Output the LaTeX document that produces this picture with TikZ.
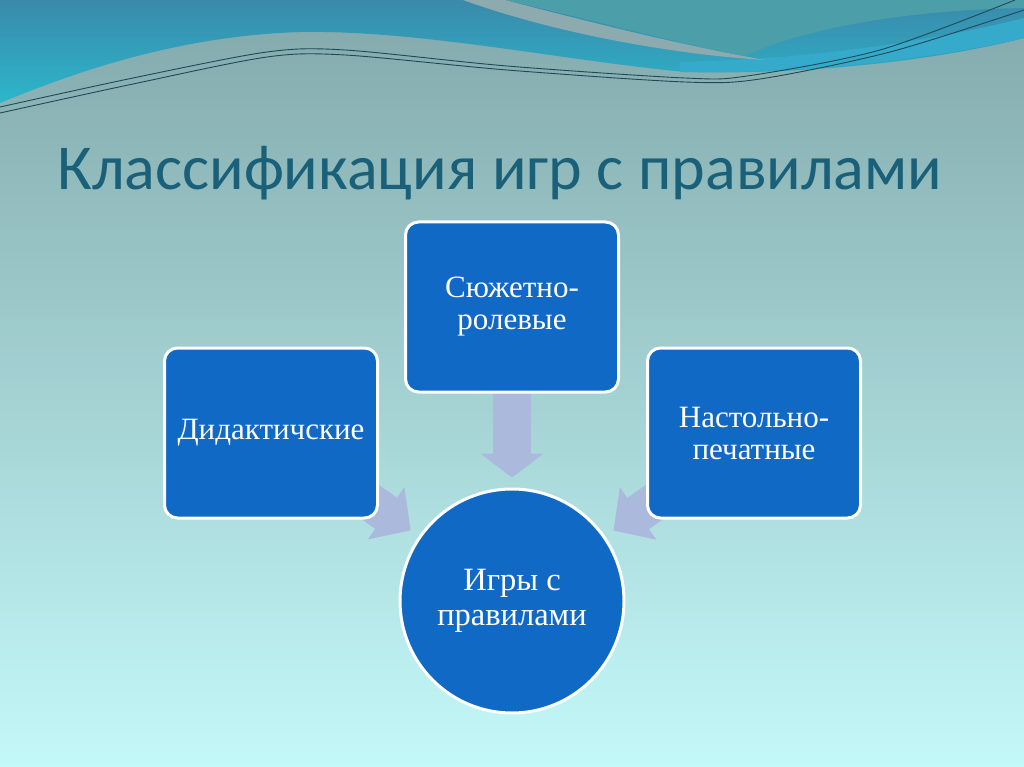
\documentclass[tikz,border=0pt]{standalone}
\usepackage{fontspec}
\setmainfont{Liberation Serif}
\newfontfamily\titlefont{Carlito}
\usetikzlibrary{arrows.meta, positioning}

\pgfdeclarelayer{back}
\pgfsetlayers{back,main}

\definecolor{boxblue}{HTML}{1169C6}
\definecolor{arrowc}{HTML}{AAB9DC}
\definecolor{titlec}{HTML}{1A6079}
\definecolor{skyblue}{HTML}{3A8AAA}
\definecolor{skycyan}{HTML}{2CB6CC}
\definecolor{bandcyan}{HTML}{36AACA}
\definecolor{skyteal}{HTML}{4C9EA8}
\definecolor{streak}{HTML}{8DAAAE}
\definecolor{waveline}{HTML}{1D4A56}
\definecolor{bgtop}{HTML}{82A8AB}
\definecolor{bgmid}{HTML}{A5D4D5}
\definecolor{bgbot}{HTML}{C4F9F9}

\tikzset{
	kind/.style={rectangle, rounded corners=13pt, fill=boxblue, draw=white, line width=3pt,
		minimum width=213pt, minimum height=170pt, text=white, align=center,
		font=\fontsize{31}{32}\selectfont},
	hub/.style={circle, fill=boxblue, draw=white, line width=3pt, minimum size=224pt,
		text=white, align=center, font=\fontsize{32.5}{35}\selectfont},
	flow/.style={draw=arrowc, line width=38pt, -{Triangle[width=62pt,length=#1]}, shorten >=10pt},
	flow/.default=30pt
}

\begin{document}
\begin{tikzpicture}[x=1pt,y=-1pt,node distance=2cm,on grid]
	\useasboundingbox (0,0) rectangle (1024,767);

	% backdrop and the wave at the top
	\begin{pgfonlayer}{back}
		\shade[top color=bgtop, middle color=bgmid, bottom color=bgbot] (0,0) rectangle (1024,767);
		\shade[top color=skyblue, bottom color=skycyan]
			(0,0) -- (1024,0) -- (1024,38) .. controls (930,62) and (800,75) .. (685,72)
			.. controls (560,60) and (420,30) .. (300,32) .. controls (180,36) and (80,70) .. (0,103) -- cycle;
		\fill[bandcyan] (680,62) .. controls (800,60) and (930,42) .. (1024,18)
			-- (1024,38) .. controls (930,60) and (800,74) .. (680,72) -- cycle;
		\fill[skyteal] (505,0) .. controls (600,22) and (690,46) .. (745,56)
			.. controls (800,30) and (900,10) .. (1024,8) -- (1024,0) -- cycle;
		\fill[streak] (463,0) -- (505,0) .. controls (600,25) and (690,47) .. (765,60)
			.. controls (680,55) and (560,35) .. (463,0) -- cycle;
		\draw[waveline, line width=0.9pt] plot[smooth] coordinates
			{(0,107) (133,78) (267,52) (345,50) (507,66) (685,78) (747,76) (880,50) (1015,0)};
		\draw[waveline, line width=0.9pt] plot[smooth] coordinates
			{(0,113) (133,84) (267,57) (345,55) (507,70) (685,82) (760,79) (890,52) (1024,10)};
	\end{pgfonlayer}

	\node[anchor=base west, text=titlec, font=\titlefont\fontsize{64}{76}\selectfont]
		(title) at (54,190) {Классификация игр с правилами};

	\node[kind]                                          (didactic) at (271,433) {Дидактичские};
	\node[kind, above right=126pt and 241pt of didactic] (roles)               {Сюжетно-\\ролевые};
	\node[kind, right=483pt of didactic]                 (printed)             {Настольно-\\печатные};
	\node[hub, below=294pt of roles]                     (games)               {Игры с\\правилами};

	\begin{pgfonlayer}{back}
		\path
			(roles.center)    edge [flow=24pt] (games)
			(didactic.center) edge [flow]      (games)
			(printed.center)  edge [flow]      (games);
	\end{pgfonlayer}
\end{tikzpicture}
\end{document}
